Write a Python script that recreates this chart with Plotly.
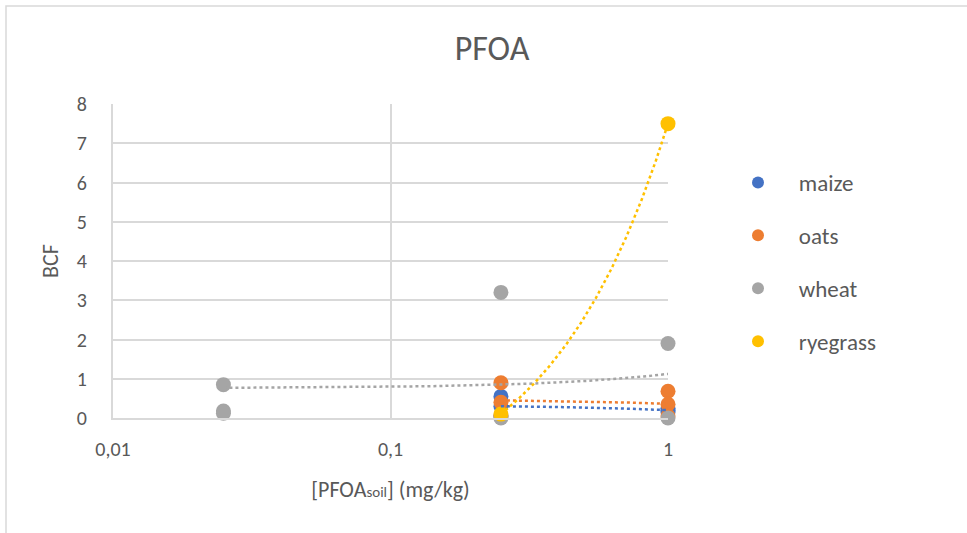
import numpy as np
import plotly.graph_objects as go

# ---- data ----
maize_x = [0.25, 0.25, 0.25, 1, 1, 1]
maize_y = [0.55, 0.30, 0.05, 0.15, 0.20, 0.25]
oats_x = [0.25, 0.25, 0.25, 1, 1, 1]
oats_y = [0.90, 0.40, 0.05, 0.68, 0.35, 0.05]
wheat_x = [0.025, 0.025, 0.025, 0.25, 0.25, 1, 1]
wheat_y = [0.85, 0.18, 0.12, 3.20, 0.00, 1.90, 0.00]
rye_x = [0.25, 1]
rye_y = [0.10, 7.50]

series_names = ["maize", "oats", "wheat", "ryegrass"]
series_colors = ["#4472C4", "#ED7D31", "#A5A5A5", "#FFC000"]
x_tickvals = [0.01, 0.1, 1]
x_ticktext = ["0,01", "0,1", "1"]
y_tickvals = [0, 1, 2, 3, 4, 5, 6, 7, 8]

series = [(maize_x, maize_y), (oats_x, oats_y), (wheat_x, wheat_y), (rye_x, rye_y)]

FONT = "Calibri, Carlito, Lato, 'Noto Sans', sans-serif"
TXT = "#595959"

fig = go.Figure()
for (xs, ys), name, col in zip(series, series_names, series_colors):
    fig.add_trace(go.Scatter(
        x=xs, y=ys, mode="markers", name="    " + name,
        marker=dict(color=col, size=15),
        cliponaxis=False, legendgroup=name,
    ))

# linear trendlines (Excel style), drawn on log x axis
for (xs, ys), name, col in zip(series, series_names, series_colors):
    b, a = np.polyfit(np.array(xs, float), np.array(ys, float), 1)
    xx = np.logspace(np.log10(min(xs)), np.log10(max(xs)), 200)
    fig.add_trace(go.Scatter(
        x=xx, y=a + b * xx, mode="lines", showlegend=False, hoverinfo="skip",
        line=dict(color=col, width=2.5, dash="dot"), cliponaxis=False,
    ))

W, H = 967, 533
L, R, T, B = 113, 668, 104, 418

fig.update_layout(
    width=W, height=H,
    margin=dict(l=L, r=W - R, t=T, b=H - B),
    paper_bgcolor="white", plot_bgcolor="white",
    font=dict(family=FONT, color=TXT, size=20),
    title=dict(text="PFOA", x=492 / W, xanchor="center",
               y=1 - 48 / H, yanchor="middle", yref="container",
               font=dict(size=34, color=TXT, family=FONT)),
    xaxis=dict(type="log", range=[-2, 0], tickvals=x_tickvals, ticktext=x_ticktext,
               showgrid=True, gridcolor="#D9D9D9", gridwidth=2,
               showline=True, linecolor="#D9D9D9", linewidth=2,
               zeroline=False, ticks="", ticklabelstandoff=12,
               tickfont=dict(size=20, color=TXT),
               title=dict(text="[PFOA<span style='font-size:15px'>soil</span>] (mg/kg)",
                          font=dict(size=22, color=TXT), standoff=22)),
    yaxis=dict(range=[0, 8], tickvals=y_tickvals,
               showgrid=True, gridcolor="#D9D9D9", gridwidth=2,
               showline=True, linecolor="#D9D9D9", linewidth=2,
               zeroline=False, ticks="", ticklabelstandoff=20,
               tickfont=dict(size=20, color=TXT),
               title=dict(text="BCF", font=dict(size=22, color=TXT), standoff=12)),
    legend=dict(x=(738 - L) / (R - L), xanchor="left", y=(B - 161) / (B - T), yanchor="top",
                font=dict(size=23, color=TXT), traceorder="grouped",
                tracegroupgap=20, itemsizing="constant", bgcolor="rgba(0,0,0,0)"),
    showlegend=True,
)

# chart border (Excel chart area frame, partly visible)
fig.add_shape(type="rect", xref="paper", yref="paper",
              x0=(6 - L) / (R - L), x1=(W + 20 - L) / (R - L),
              y0=(B - (H + 20)) / (B - T), y1=(B - 6) / (B - T),
              line=dict(color="#D9D9D9", width=1.5), layer="below")

fig.write_html("out.html")
